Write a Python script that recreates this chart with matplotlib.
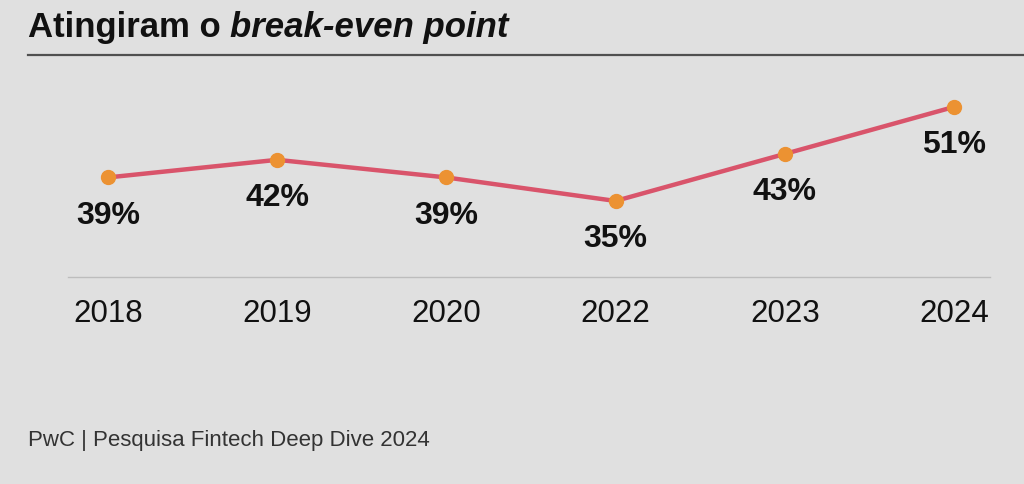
import matplotlib
matplotlib.use("Agg")
import matplotlib.pyplot as plt
from matplotlib.lines import Line2D

years = ["2018", "2019", "2020", "2022", "2023", "2024"]
values = [39, 42, 39, 35, 43, 51]
labels = ["39%", "42%", "39%", "35%", "43%", "51%"]

BG = "#e0e0e0"
plt.rcParams['font.family'] = ['Liberation Sans', 'DejaVu Sans']

fig = plt.figure(figsize=(10.24, 4.85), dpi=100, facecolor=BG)
ax = fig.add_axes([68/1024, 1-278/485, 922/1024, (278-95)/485])
ax.set_facecolor(BG)

xs = list(range(len(years)))
ax.plot(xs, values, color="#d9546b", lw=3.2, zorder=2, solid_capstyle="round")
ax.plot(xs, values, ls="none", marker="o", ms=10, color="#ec9232", zorder=3)

for x, v, t in zip(xs, values, labels):
    ax.annotate(t, (x, v), xytext=(0, -27), textcoords="offset points",
                ha="center", va="center", fontsize=23, fontweight="bold", color="#111111")

ax.set_xlim(-0.236, 5.213)
ax.set_ylim(22.06, 53.2)
ax.set_xticks(xs)
ax.set_xticklabels(years, fontsize=22.5, color="#111111")
ax.tick_params(axis="x", length=0, pad=15)
ax.set_yticks([])
for s in ["top", "left", "right"]:
    ax.spines[s].set_visible(False)
ax.spines["bottom"].set_color("#bdbdbd")
ax.spines["bottom"].set_linewidth(1.0)

t1 = fig.text(28/1024, 1-37/485, "Atingiram o ", fontsize=25, fontweight="bold",
              color="#111111", ha="left", va="baseline")
fig.canvas.draw()
bb = t1.get_window_extent()
fig.text(bb.x1/1024, 1-37/485, "break-even point", fontsize=25, fontweight="bold",
         style="italic", color="#111111", ha="left", va="baseline")

fig.add_artist(Line2D([28/1024, 1.0], [1-56/485, 1-56/485], color="#505050", lw=1.6,
                      transform=fig.transFigure))

fig.text(28/1024, 1-441/485, "PwC | Pesquisa Fintech Deep Dive 2024", fontsize=16,
         color="#333333", ha="left", va="center")

fig.savefig("out.png", dpi=100, facecolor=BG)
